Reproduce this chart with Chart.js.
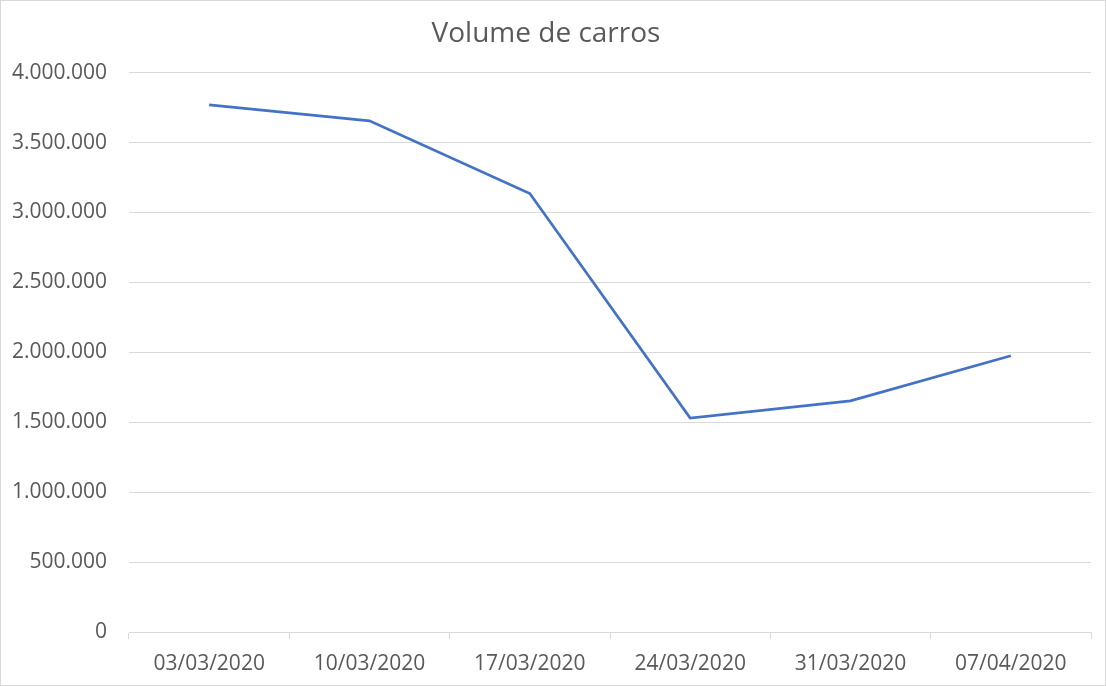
<!DOCTYPE html>
<html>
<head>
<meta charset="utf-8">
<script src="https://cdn.jsdelivr.net/npm/chart.js@4"></script>
<style>
    html, body { margin: 0; padding: 0; background: #fff; }
    #frame { width: 1106px; height: 686px; border: 1px solid #d9d9d9; box-sizing: border-box; position: relative; }
    #chartBox { width: 1104px; height: 684px; position: relative; }
</style>
</head>
<body>
<div id="frame"><div id="chartBox"><canvas id="chart"></canvas></div></div>
<script>
// Weekly car volume
const weekLabels = ["03/03/2020", "10/03/2020", "17/03/2020", "24/03/2020", "31/03/2020", "07/04/2020"];
const carVolume = [3770000, 3655000, 3135000, 1530000, 1653000, 1975000];
const yTicks = [0, 500000, 1000000, 1500000, 2000000, 2500000, 3000000, 3500000, 4000000];

const textColor = "#595959";
const gridColor = "#d9d9d9";

// 4000000 -> 4.000.000
function formatThousands(v) {
    return String(v).replace(/\B(?=(\d{3})+(?!\d))/g, ".");
}

document.addEventListener("DOMContentLoaded", () => {
    const ctx = document.getElementById("chart").getContext("2d");
    new Chart(ctx, {
        type: "line",
        data: {
            labels: weekLabels,
            datasets: [{
                label: "Volume de carros",
                data: carVolume,
                borderColor: "#4472c4",
                borderWidth: 2.75,
                pointRadius: 0,
                tension: 0,
                fill: false,
            }],
        },
        options: {
            responsive: true,
            maintainAspectRatio: false,
            animation: false,
            layout: { padding: { top: 0, right: 14, bottom: 0, left: 0 } },
            plugins: {
                legend: { display: false },
                tooltip: { enabled: false },
                title: {
                    display: true,
                    text: "Volume de carros",
                    color: textColor,
                    font: { family: "Open Sans", size: 28, weight: "normal", lineHeight: 1.2 },
                    padding: { top: 16, bottom: 22 },
                },
            },
            scales: {
                x: {
                    offset: true,
                    grid: {
                        offset: true,
                        drawOnChartArea: false,
                        drawTicks: true,
                        tickLength: 7,
                        color: gridColor,
                    },
                    border: { color: gridColor, width: 1 },
                    ticks: {
                        color: textColor,
                        font: { family: "Open Sans", size: 21 },
                        padding: 12,
                        maxRotation: 0,
                    },
                    afterFit: scale => { scale.height = 53; },
                },
                y: {
                    min: 0,
                    max: 4000000,
                    afterBuildTicks: scale => { scale.ticks = yTicks.map(v => ({ value: v })); },
                    grid: { color: gridColor, drawTicks: false },
                    border: { display: false },
                    ticks: {
                        color: textColor,
                        font: { family: "Open Sans", size: 21 },
                        padding: 22,
                        callback: v => formatThousands(v),
                    },
                    afterFit: scale => { scale.width = 128; },
                },
            },
        },
    });
});
</script>
</body>
</html>
